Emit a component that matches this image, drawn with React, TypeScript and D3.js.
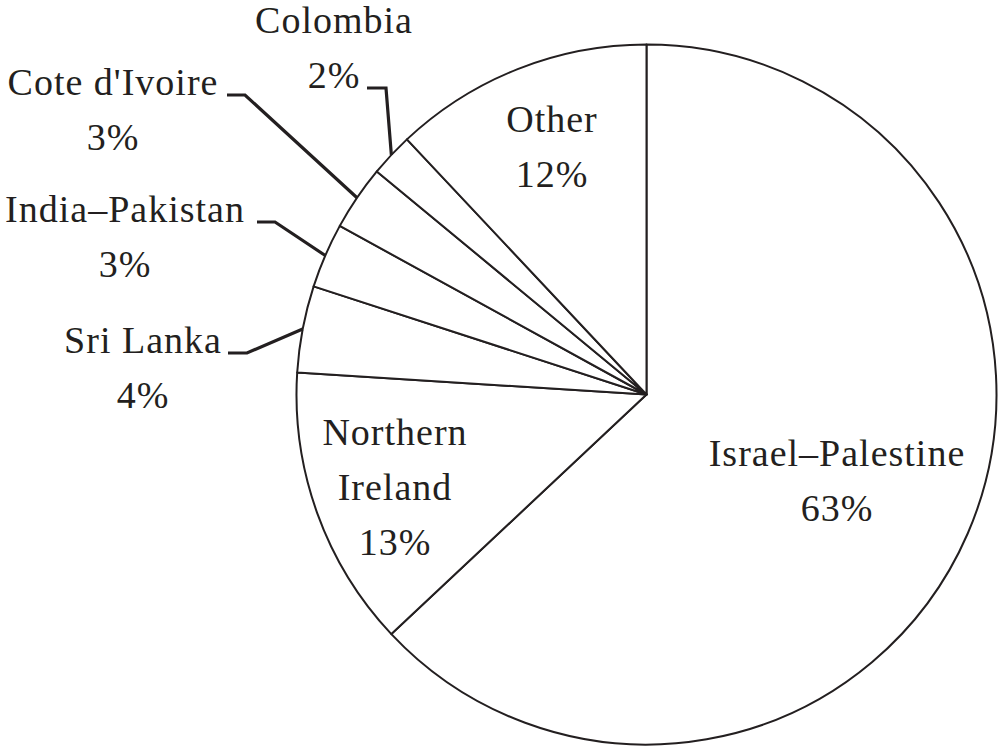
import { useMemo } from "react";
import * as d3 from "d3";

const width = 1000;
const height = 749;
const cx = 646.5;
const cy = 394.5;
const radius = 350;

const ink = "#231f20";
const font = "'Liberation Serif', 'DejaVu Serif', serif";
const fontSize = 38;
const lineGap = 55;

// slices, clockwise from 12 o'clock
const conflicts = [
  "Israel–Palestine",
  "Northern Ireland",
  "Sri Lanka",
  "India–Pakistan",
  "Cote d'Ivoire",
  "Colombia",
  "Other",
];
const shares = [63, 13, 4, 3, 3, 2, 12];

// where the text goes (centre x, first baseline) and the leader (x from, x knee, y)
const labelLayout: Record<
  string,
  { x: number; y: number; lines: string[]; leader?: [number, number, number] }
> = {
  "Israel–Palestine": { x: 837, y: 466, lines: ["Israel–Palestine"] },
  "Northern Ireland": { x: 395, y: 445, lines: ["Northern", "Ireland"] },
  "Sri Lanka": { x: 143, y: 353, lines: ["Sri Lanka"], leader: [228, 247, 353] },
  "India–Pakistan": { x: 125, y: 222, lines: ["India–Pakistan"], leader: [257, 275, 222] },
  "Cote d'Ivoire": { x: 113, y: 95, lines: ["Cote d'Ivoire"], leader: [227, 245, 95] },
  Colombia: { x: 334, y: 33, lines: ["Colombia"], leader: [367, 386, 88] },
  Other: { x: 552, y: 132, lines: ["Other"] },
};

export default function App() {
  const arcs = useMemo(() => {
    const data = conflicts.map((name, i) => ({ name, value: shares[i] }));
    return d3
      .pie<{ name: string; value: number }>()
      .sort(null)
      .value((d) => d.value)
      .startAngle(0)
      .endAngle(2 * Math.PI)(data);
  }, []);

  const arcGen = d3
    .arc<d3.PieArcDatum<{ name: string; value: number }>>()
    .innerRadius(0)
    .outerRadius(radius);

  return (
    <svg
      width={width}
      height={height}
      viewBox={`0 0 ${width} ${height}`}
      style={{ position: "absolute", left: 0, top: 0, background: "white" }}
    >
      <g transform={`translate(${cx}, ${cy})`}>
        {arcs.map((a) => (
          <path
            key={a.data.name}
            d={arcGen(a) ?? ""}
            fill="white"
            stroke={ink}
            strokeWidth={2}
            strokeLinejoin="round"
          />
        ))}
      </g>
      {arcs.map((a) => {
        const lay = labelLayout[a.data.name];
        const mid = (a.startAngle + a.endAngle) / 2;
        const ex = cx + Math.sin(mid) * radius;
        const ey = cy - Math.cos(mid) * radius;
        const lines = [...lay.lines, `${a.data.value}%`];
        return (
          <g key={a.data.name}>
            {lay.leader && (
              <polyline
                points={`${lay.leader[0]},${lay.leader[2]} ${lay.leader[1]},${lay.leader[2]} ${ex},${ey}`}
                fill="none"
                stroke={ink}
                strokeWidth={3.2}
                strokeLinejoin="miter"
              />
            )}
            <text
              x={lay.x}
              y={lay.y}
              textAnchor="middle"
              fontFamily={font}
              fontSize={fontSize}
              letterSpacing={1}
              fill={ink}
            >
              {lines.map((t, i) => (
                <tspan key={i} x={lay.x} y={lay.y + i * lineGap}>
                  {t}
                </tspan>
              ))}
            </text>
          </g>
        );
      })}
    </svg>
  );
}
